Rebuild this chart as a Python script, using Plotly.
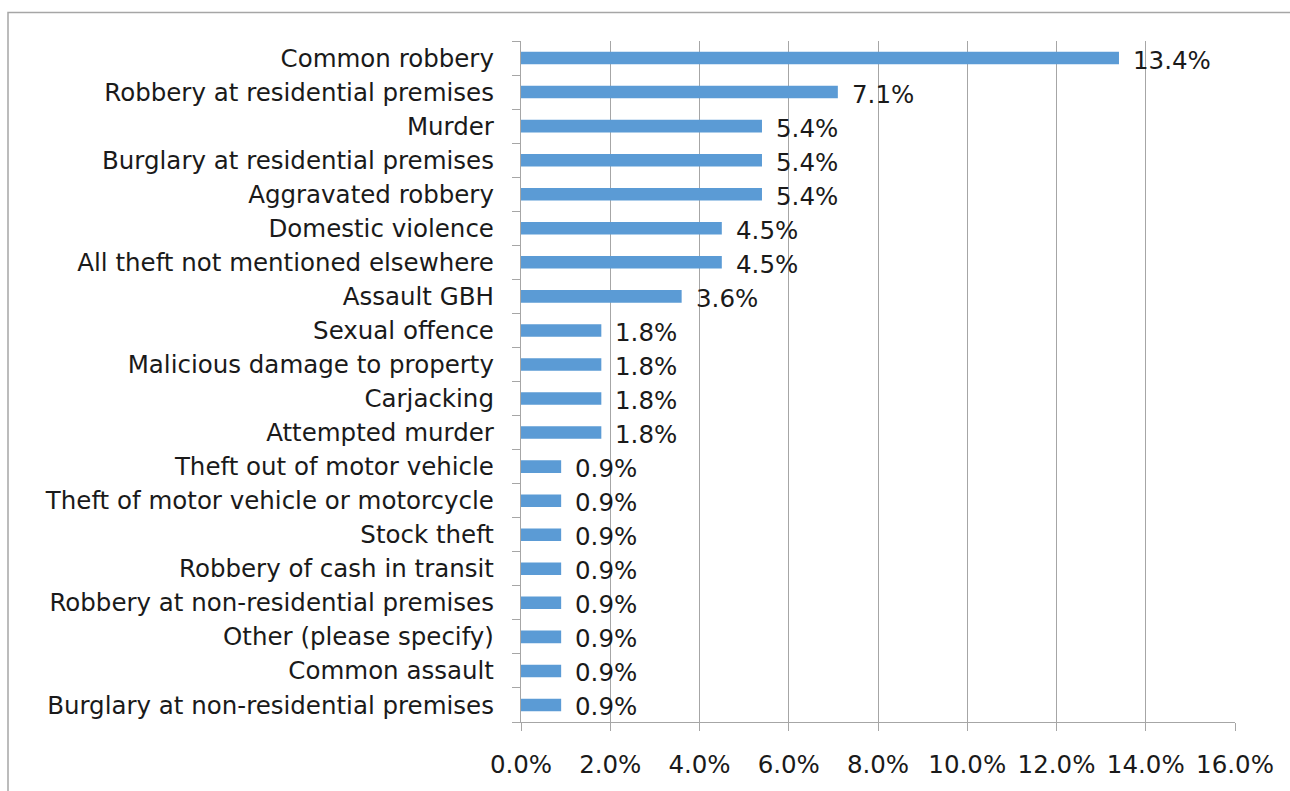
import plotly.graph_objects as go

categories = [
    "Common robbery",
    "Robbery at residential premises",
    "Murder",
    "Burglary at residential premises",
    "Aggravated robbery",
    "Domestic violence",
    "All theft not mentioned elsewhere",
    "Assault GBH",
    "Sexual offence",
    "Malicious damage to property",
    "Carjacking",
    "Attempted murder",
    "Theft out of motor vehicle",
    "Theft of motor vehicle or motorcycle",
    "Stock theft",
    "Robbery of cash in transit",
    "Robbery at non-residential premises",
    "Other (please specify)",
    "Common assault",
    "Burglary at non-residential premises",
]
percent = [13.4, 7.1, 5.4, 5.4, 5.4, 4.5, 4.5, 3.6, 1.8, 1.8, 1.8, 1.8,
           0.9, 0.9, 0.9, 0.9, 0.9, 0.9, 0.9, 0.9]
x_ticks = [0, 2, 4, 6, 8, 10, 12, 14, 16]

FONT = "DejaVu Sans"
FSIZE = 24.5
GRID = "#a6a6a6"
BAR = "#5b9bd5"
TEXT = "#1a1a1a"

fig = go.Figure()
fig.add_trace(go.Bar(
    y=categories,
    x=percent,
    orientation="h",
    marker=dict(color=BAR, line=dict(width=0)),
    width=0.37,
    hoverinfo="x+y",
))

# value labels just past the end of each bar
for c, v in zip(categories, percent):
    fig.add_annotation(
        x=v, y=c, xref="x", yref="y",
        text=f"{v:.1f}%", showarrow=False,
        xanchor="left", xshift=12, yshift=-2,
        font=dict(family=FONT, size=FSIZE, color=TEXT),
    )

# outer chart frame (only its top and left edges fall inside the page)
L, R, T, B = 521, 1235, 41, 732
W, H = R - L, B - T
fig.add_shape(
    type="rect", xref="paper", yref="paper",
    x0=(8 - L) / W, x1=(1400 - L) / W,
    y0=(B - 900) / H, y1=(B - 12) / H,
    line=dict(color="#a6a6a6", width=1.5),
    fillcolor="rgba(0,0,0,0)", layer="below",
)

fig.update_layout(
    width=1290, height=791,
    margin=dict(l=L, r=1290 - R, t=T, b=791 - B),
    paper_bgcolor="white", plot_bgcolor="white",
    showlegend=False,
    bargap=0.63,
    font=dict(family=FONT, size=FSIZE, color=TEXT),
    xaxis=dict(
        range=[0, 16],
        tickvals=x_ticks,
        ticktext=[f"{t:.1f}%" for t in x_ticks],
        showgrid=True, gridcolor=GRID, gridwidth=1.3,
        zeroline=False,
        showline=True, linecolor=GRID, linewidth=1.3,
        ticks="outside", ticklen=8, tickcolor=GRID, tickwidth=1.3,
        ticklabelstandoff=12,
        tickfont=dict(family=FONT, size=FSIZE, color=TEXT),
        fixedrange=True,
    ),
    yaxis=dict(
        categoryorder="array",
        categoryarray=categories[::-1],
        autorange=False,
        range=[-0.5, len(categories) - 0.5],
        showgrid=False, zeroline=False,
        showline=True, linecolor=GRID, linewidth=1.3,
        ticks="outside", ticklen=8, tickcolor=GRID, tickwidth=1.3,
        tickson="boundaries",
        ticklabelstandoff=21,
        tickfont=dict(family=FONT, size=FSIZE, color=TEXT),
        fixedrange=True,
    ),
)

fig.write_html("out.html")
